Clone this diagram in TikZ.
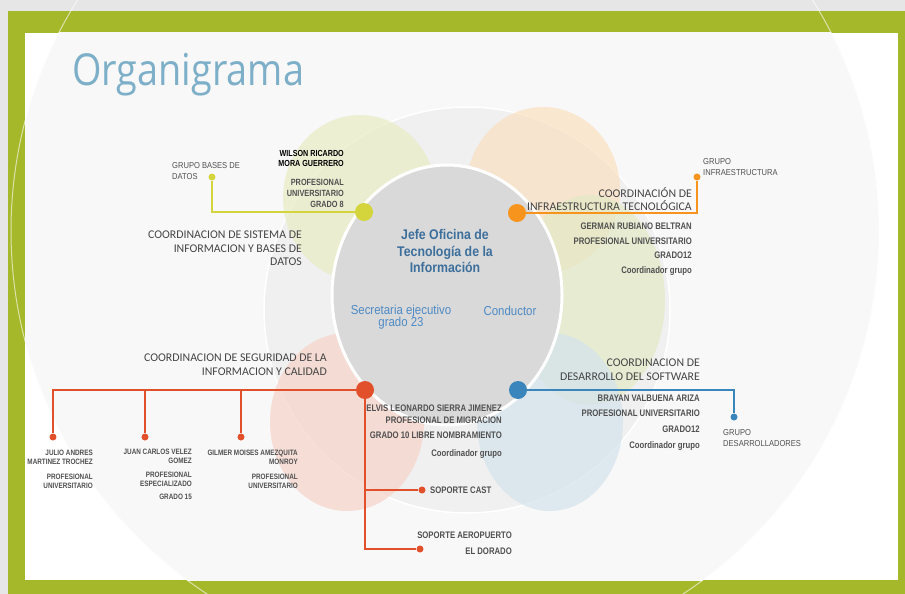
\documentclass[tikz,border=0pt]{standalone}
\usepackage{fontspec}
\setmainfont{Liberation Sans}
\newfontfamily\titlefont[FakeStretch=0.86]{Open Sans}
\newfontfamily\headfont{Carlito}
\newfontfamily\narrowfont[FakeStretch=0.815]{Liberation Sans}
\newfontfamily\midfont[FakeStretch=0.88]{Liberation Sans}

\definecolor{framegreen}{HTML}{A5B82A}
\definecolor{framegray}{HTML}{E6E6E6}
\definecolor{panelgray}{HTML}{F8F8F8}
\definecolor{palering}{HTML}{F0F0F0}
\definecolor{centergray}{HTML}{D9D9D9}
\definecolor{titleblue}{HTML}{7EAFC9}
\definecolor{dotyellow}{HTML}{D4D43C}
\definecolor{dotorange}{HTML}{F7941E}
\definecolor{dotred}{HTML}{E2502B}
\definecolor{dotblue}{HTML}{3A86BC}
\definecolor{petyellow}{HTML}{E9ECC4}
\definecolor{petorange}{HTML}{FBE0C0}
\definecolor{petgreen}{HTML}{E3EAC6}
\definecolor{petred}{HTML}{F6D3C8}
\definecolor{petblue}{HTML}{D4E2EC}
\definecolor{headgray}{HTML}{454545}
\definecolor{txtgray}{HTML}{505050}
\definecolor{jefeblue}{HTML}{3D6F9C}
\definecolor{secblue}{HTML}{4E8AC4}

\begin{document}
\begin{tikzpicture}[x=1pt, y=-1pt,
  bigdot/.style={circle, fill=#1, minimum size=18pt, inner sep=0pt},
  smalldot/.style={circle, fill=#1, minimum size=7pt, inner sep=0pt},
  link/.style={draw=#1, line width=1.3pt},
  head/.style={font=\headfont\fontsize{11.8}{13.5}\selectfont, text=headgray, align=right, inner sep=0pt},
  person/.style={font=\narrowfont\bfseries\fontsize{9.5}{14.7}\selectfont, text=txtgray, align=right, inner sep=0pt},
  staff/.style={font=\narrowfont\bfseries\fontsize{7.8}{9}\selectfont, text=txtgray, align=right, inner sep=0pt},
  grp/.style={font=\midfont\fontsize{8.6}{11}\selectfont, text=txtgray, align=left, inner sep=0pt}]
\useasboundingbox (0,0) rectangle (905,594);

\fill[framegray] (0,0) rectangle (905,594);
\fill[framegreen] (8,11) rectangle (905,594);
\fill[white] (25,33) rectangle (898,580);
\begin{scope}
\clip (25,33) rectangle (898,580);
\fill[panelgray] (445,231) circle[radius=434pt];
\end{scope}

\fill[palering, draw=white, line width=1.5pt] (467,310) circle[radius=203pt];
\fill[petyellow, opacity=.7] (360,198) ellipse[x radius=77pt, y radius=83pt];
\fill[petorange, opacity=.7] (543,190) ellipse[x radius=77pt, y radius=83pt];
\fill[petgreen, opacity=.7] (590,300) ellipse[x radius=75pt, y radius=105pt];
\fill[petred, opacity=.7] (347,422) ellipse[x radius=77pt, y radius=89pt];
\fill[petblue, opacity=.7] (550,422) ellipse[x radius=73pt, y radius=89pt];
\fill[centergray, draw=white, line width=3pt] (447,295) ellipse[x radius=115pt, y radius=130pt];

\begin{scope}
\clip (0,0) rectangle (905,594);
\draw[white, opacity=.6, line width=1pt] (445,231) circle[radius=434pt];
\end{scope}

\node[anchor=base west, inner sep=0pt, text=titleblue, font=\titlefont\fontsize{44}{50}\selectfont] (title) at (72,85) {Organigrama};

\node[align=center, inner sep=0pt, text=jefeblue, font=\midfont\bfseries\fontsize{14}{16.5}\selectfont] (jefe) at (445,251) {Jefe Oficina de\\Tecnología de la\\Información};
\node[align=center, inner sep=0pt, text=secblue, font=\midfont\fontsize{13}{12.5}\selectfont] (secr) at (401,317) {Secretaria ejecutivo\\grado 23};
\node[inner sep=0pt, text=secblue, font=\midfont\fontsize{13}{12.5}\selectfont] (cond) at (510,311) {Conductor};

\node[bigdot=dotyellow] (yd) at (364,212) {};
\node[bigdot=dotorange] (od) at (517,213) {};
\node[bigdot=dotred] (rd) at (365,390) {};
\node[bigdot=dotblue] (bd) at (518,390) {};

\node[smalldot=dotyellow] (ys) at (212,177) {};
\node[smalldot=dotorange] (os) at (697,177) {};
\node[smalldot=dotblue] (bs) at (734,417) {};
\node[smalldot=dotred] (r1) at (53,437) {};
\node[smalldot=dotred] (r2) at (145,437) {};
\node[smalldot=dotred] (r3) at (241,437) {};
\node[smalldot=dotred] (rc) at (422,490) {};
\node[smalldot=dotred] (ra) at (420,549) {};

\draw[link=dotyellow] (yd) -| (ys);
\draw[link=dotorange] (od) -| (os);
\draw[link=dotblue] (bd) -| (bs);
\draw[link=dotred] (rd) -| (r1);
\draw[link=dotred] (rd) -| (r2);
\draw[link=dotred] (rd) -| (r3);
\draw[link=dotred] (rd) |- (rc);
\draw[link=dotred] (rd) |- (ra);

\node[head, anchor=north east] (yhead) at (302,231) {COORDINACION DE SISTEMA DE\\INFORMACION Y BASES DE\\DATOS};
\node[anchor=north east, align=right, inner sep=0pt, font=\narrowfont\bfseries\fontsize{8.8}{10}\selectfont] (wname) at (344,150) {WILSON RICARDO\\MORA GUERRERO};
\node[anchor=north east, align=right, inner sep=0pt, text=txtgray, font=\narrowfont\bfseries\fontsize{9}{11}\selectfont] (wrole) at (344,178.8) {PROFESIONAL\\UNIVERSITARIO\\GRADO 8};
\node[grp, anchor=north west] (ygrp) at (172,162) {GRUPO BASES DE\\DATOS};

\node[head, anchor=north east] (ohead) at (692,187) {COORDINACIÓN DE\\INFRAESTRUCTURA TECNOLÓGICA};
\node[person, anchor=north east] (oper) at (692,222.6) {GERMAN RUBIANO BELTRAN\\PROFESIONAL UNIVERSITARIO\\GRADO12\\Coordinador grupo};
\node[grp, anchor=north west] (ogrp) at (703,158) {GRUPO\\INFRAESTRUCTURA};

\node[head, anchor=north east] (bhead) at (700,359) {COORDINACION DE\\DESARROLLO DEL SOFTWARE};
\node[person, anchor=north east, font=\narrowfont\bfseries\fontsize{9.5}{15.6}\selectfont] (bper) at (700,394.6) {BRAYAN VALBUENA ARIZA\\PROFESIONAL UNIVERSITARIO\\GRADO12\\Coordinador grupo};
\node[grp, anchor=north west] (bgrp) at (723,429) {GRUPO\\DESARROLLADORES};

\node[head, anchor=north east] (rhead) at (327,354) {COORDINACION DE SEGURIDAD DE LA\\INFORMACION Y CALIDAD};
\node[person, anchor=north east, font=\narrowfont\bfseries\fontsize{9.5}{12}\selectfont] (rper) at (502,404.6) {ELVIS LEONARDO SIERRA JIMENEZ\\PROFESIONAL DE MIGRACION\\[3pt]GRADO 10 LIBRE NOMBRAMIENTO\\[6pt]Coordinador grupo};
\node[staff, anchor=north east] (julio) at (93,450) {JULIO ANDRES\\MARTINEZ TROCHEZ\\[6pt]PROFESIONAL\\UNIVERSITARIO};
\node[staff, anchor=north east] (juan) at (192,449) {JUAN CARLOS VELEZ\\GOMEZ\\[5pt]PROFESIONAL\\ESPECIALIZADO\\[4pt]GRADO 15};
\node[staff, anchor=north east] (gilmer) at (298,450) {GILMER MOISES AMEZQUITA\\MONROY\\[6pt]PROFESIONAL\\UNIVERSITARIO};
\node[person, anchor=west] (cast) at (430,490) {SOPORTE CAST};
\node[person, anchor=north east, font=\narrowfont\bfseries\fontsize{9.5}{16}\selectfont] (aero) at (512,531.5) {SOPORTE AEROPUERTO\\EL DORADO};
\end{tikzpicture}
\end{document}
